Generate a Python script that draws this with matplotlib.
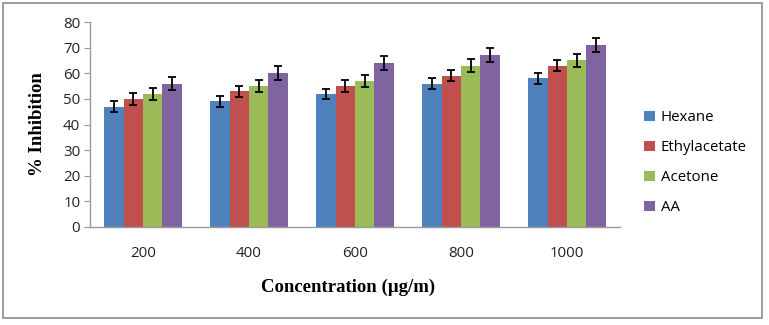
import matplotlib
matplotlib.use("Agg")
import matplotlib.pyplot as plt
import numpy as np
from matplotlib.patches import Rectangle

concentrations = ["200", "400", "600", "800", "1000"]
series_names = ["Hexane", "Ethylacetate", "Acetone", "AA"]
hexane = [47, 49, 52, 56, 58]
ethylacetate = [50, 53, 55, 59, 63]
acetone = [52, 55, 57, 63, 65]
aa = [56, 60, 64, 67, 71]
hexane_err = [2.0, 2.2, 2.0, 2.0, 2.0]
ethylacetate_err = [2.2, 2.2, 2.2, 2.2, 2.3]
acetone_err = [2.3, 2.5, 2.4, 2.4, 2.5]
aa_err = [2.7, 2.7, 2.7, 2.7, 2.8]
colors = ["#4F81BD", "#C0504D", "#9BBB59", "#8064A2"]

W, H = 769, 325
fig = plt.figure(figsize=(W / 100, H / 100), dpi=100)

# outer chart frame
fig.patches.append(Rectangle((3 / W, 1 - 318 / H), 759 / W, 315 / H,
                             transform=fig.transFigure, fill=False,
                             edgecolor="#8c8c8c", linewidth=1.2))

ax = fig.add_axes([90 / W, (H - 227) / H, 530 / W, 205 / H])

values = [hexane, ethylacetate, acetone, aa]
errors = [hexane_err, ethylacetate_err, acetone_err, aa_err]
x = np.arange(len(concentrations))
bw = 0.182
for i, (vals, errs, c, name) in enumerate(zip(values, errors, colors, series_names)):
    pos = x + (i - 1.5) * bw
    ax.bar(pos, vals, width=bw, color=c, label=name, zorder=2)
    ax.errorbar(pos, vals, yerr=errs, fmt="none", ecolor="black",
                elinewidth=1.3, capsize=2.6, capthick=1.3, zorder=3)

ax.set_xlim(-0.5, len(concentrations) - 0.5)
ax.set_ylim(0, 80)
ax.set_yticks(range(0, 81, 10))
ax.set_xticks(x)
ax.set_xticklabels(concentrations)

for lbl in ax.get_xticklabels() + ax.get_yticklabels():
    lbl.set_fontfamily("Open Sans")
    lbl.set_fontsize(10.8)
    lbl.set_color("#222222")

for s in ["top", "right"]:
    ax.spines[s].set_visible(False)
for s in ["left", "bottom"]:
    ax.spines[s].set_color("#9a9a9a")
    ax.spines[s].set_linewidth(1.0)
ax.tick_params(axis="y", length=4, color="#9a9a9a", pad=3)
ax.tick_params(axis="x", length=0, pad=14)

ax.set_ylabel("% Inhibition", fontfamily="Liberation Serif", fontweight="bold",
              fontsize=13.5, labelpad=12)
fig.text(348 / W, 1 - 287 / H, "Concentration (\u00b5g/m)", ha="center", va="center",
         fontfamily="Liberation Serif", fontweight="bold", fontsize=13.5)

leg = ax.legend(loc="upper left", bbox_to_anchor=(1.02, 0.635), frameon=False,
                prop={"family": "Open Sans", "size": 10.8},
                handlelength=0.7, handleheight=0.7, handletextpad=0.4,
                labelspacing=1.0)

fig.savefig("out.png", dpi=100)
